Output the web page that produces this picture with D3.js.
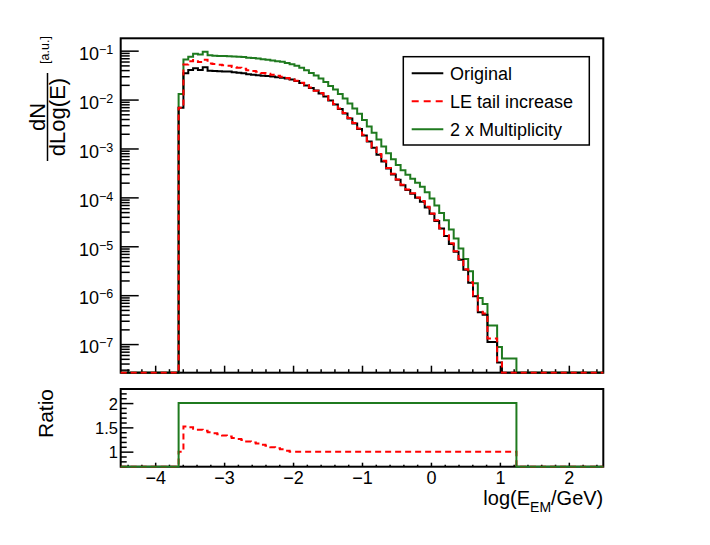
<!DOCTYPE html>
<html>
<head>
<meta charset="utf-8">
<style>
  body { margin: 0; background: #fff; }
  svg { display: block; font-family: "Liberation Sans", Arial, Helvetica, sans-serif; }
  .axis path.domain { display: none; }
  .axis line { stroke: #000; stroke-width: 1.5; }
</style>
<script src="https://cdn.jsdelivr.net/npm/d3@7"></script>
</head>
<body>
<svg width="710" height="545"></svg>
<script>
// binning of the histograms: 100 bins of 0.07 between -4.5 and 2.5
var binLow = -4.5, binWidth = 0.07, nBins = 100;
var firstBin = 12;   // first filled bin, the arrays below start here

var original = [
  0.0068, 0.0345, 0.0404, 0.0437, 0.0404, 0.0458, 0.0390, 0.0385, 0.0380, 0.0377,
  0.0373, 0.0362, 0.0354, 0.0345, 0.0330, 0.0322, 0.0316, 0.0308, 0.0302, 0.0295,
  0.0286, 0.0280, 0.0271, 0.0258, 0.0240, 0.0219, 0.0195, 0.0173, 0.0154, 0.0133,
  0.0115, 0.0096, 0.0079, 0.0064, 0.0052, 0.0041, 0.00325, 0.0025, 0.00185, 0.00139,
  0.00103, 0.00074, 0.00054, 0.00039, 0.000295, 0.000228, 0.000176, 0.000142, 0.000118, 0.000098,
  0.000081, 0.000062, 0.000046, 0.000033, 0.000023, 0.0000163, 0.0000112, 0.0000077, 0.0000053, 0.0000033,
  0.00000179, 0.00000095, 0.00000045, 0.00000040, 0.00000011, 0.00000011, 0.000000042
];
var leTail = [
  0.0068, 0.0524, 0.0606, 0.0642, 0.0586, 0.0655, 0.0546, 0.0531, 0.0517, 0.0501,
  0.0489, 0.0463, 0.0446, 0.0428, 0.0399, 0.0383, 0.0370, 0.0351, 0.0338, 0.0322,
  0.0306, 0.0294, 0.0276, 0.0260, 0.0243, 0.0222, 0.0199, 0.0176, 0.0151, 0.0136,
  0.0118, 0.0098, 0.0081, 0.0066, 0.0053, 0.0042, 0.00332, 0.00256, 0.00190, 0.00142,
  0.00106, 0.00077, 0.00056, 0.00040, 0.000305, 0.000232, 0.000182, 0.000145, 0.000121, 0.000100,
  0.000084, 0.000064, 0.000047, 0.000034, 0.0000235, 0.0000168, 0.0000115, 0.0000079, 0.0000055, 0.0000034,
  0.00000184, 0.00000098, 0.00000046, 0.00000042, 0.00000013, 0.00000013, 0.000000042
];
var multi2 = [
  0.0130, 0.066, 0.075, 0.086, 0.083, 0.095, 0.081, 0.079, 0.078, 0.078,
  0.077, 0.076, 0.075, 0.074, 0.072, 0.071, 0.069, 0.067, 0.065, 0.063,
  0.061, 0.059, 0.056, 0.053, 0.049, 0.045, 0.040, 0.035, 0.031, 0.027,
  0.023, 0.019, 0.016, 0.013, 0.0105, 0.0083, 0.0066, 0.0051, 0.0038, 0.0028,
  0.0021, 0.00152, 0.00110, 0.00080, 0.00060, 0.00046, 0.00036, 0.00029, 0.00024, 0.00020,
  0.000165, 0.000128, 0.000095, 0.000068, 0.000048, 0.000034, 0.000022, 0.0000145, 0.0000090, 0.0000055,
  0.0000031, 0.00000175, 0.00000088, 0.00000066, 0.00000024, 0.00000024, 0.000000087, 0.000000051, 0.000000051, 0.000000051
];
var ratioLE = [
  1.00, 1.52, 1.50, 1.47, 1.45, 1.43, 1.40, 1.38, 1.36, 1.33,
  1.31, 1.28, 1.26, 1.24, 1.21, 1.19, 1.17, 1.14, 1.12, 1.09,
  1.07, 1.05, 1.02, 1.00, 1.00, 1.00, 1.00, 1.00, 1.00, 1.00,
  1.00, 1.00, 1.00, 1.00, 1.00, 1.00, 1.00, 1.00, 1.00, 1.00,
  1.00, 1.00, 1.00, 1.00, 1.00, 1.00, 1.00, 1.00, 1.00, 1.00,
  1.00, 1.00, 1.00, 1.00, 1.00, 1.00, 1.00, 1.00, 1.00, 1.00,
  1.00, 1.00, 1.00, 1.00, 1.00, 1.00, 1.00, 1.00, 1.00, 1.00
];
var ratioMulti = [
  2, 2, 2, 2, 2, 2, 2, 2, 2, 2,
  2, 2, 2, 2, 2, 2, 2, 2, 2, 2,
  2, 2, 2, 2, 2, 2, 2, 2, 2, 2,
  2, 2, 2, 2, 2, 2, 2, 2, 2, 2,
  2, 2, 2, 2, 2, 2, 2, 2, 2, 2,
  2, 2, 2, 2, 2, 2, 2, 2, 2, 2,
  2, 2, 2, 2, 2, 2, 2, 2, 2, 2
];

var xTicks = [-4, -3, -2, -1, 0, 1, 2];
var yDecades = [-7, -6, -5, -4, -3, -2, -1];
var ratioTicks = [1, 1.5, 2];
var legendNames = ["Original", "LE tail increase", "2 x Multiplicity"];

var green = "#1f7a1f";

// pad array
function full(arr) {
  var out = [];
  for (var i = 0; i < nBins; i++) {
    var j = i - firstBin;
    out.push(j >= 0 && j < arr.length ? arr[j] : 0);
  }
  return out;
}

var svg = d3.select("svg");

// frames (pixels)
var L = 120.7, R = 603.3;
var topT = 38.3, topB = 372.7;
var ratT = 389, ratB = 466.7;

var x = d3.scaleLinear().domain([binLow, binLow + nBins * binWidth]).range([L, R]);
var y = d3.scaleLog().domain([2.6e-8, 0.179]).range([topB, topT]);
var yr = d3.scaleLinear().domain([0.69, 2.29]).range([ratB, ratT]);

// clip areas
var defs = svg.append("defs");
defs.append("clipPath").attr("id", "clipTop").append("rect")
    .attr("x", L - 1).attr("y", topT - 1).attr("width", R - L + 2).attr("height", topB - topT + 2);
defs.append("clipPath").attr("id", "clipRat").append("rect")
    .attr("x", L - 1).attr("y", ratT - 1).attr("width", R - L + 2).attr("height", ratB - ratT + 2);

function stepPath(vals, ys, floorY) {
  var pts = [];
  for (var i = 0; i < nBins; i++) pts.push([binLow + i * binWidth, vals[i]]);
  pts.push([binLow + nBins * binWidth, vals[nBins - 1]]);
  return d3.line()
    .x(function(d) { return x(d[0]); })
    .y(function(d) { return d[1] > 0 && ys(d[1]) < floorY ? ys(d[1]) : floorY; })
    .curve(d3.curveStepAfter)(pts);
}

// ---------- top panel ----------
svg.append("rect").attr("x", L).attr("y", topT).attr("width", R - L).attr("height", topB - topT)
   .attr("fill", "none").attr("stroke", "#000").attr("stroke-width", 2);

// x ticks (no labels)
var minorX = d3.range(-4.4, 2.5, 0.2).filter(function(v) { return Math.abs(v - Math.round(v)) > 0.01; });
svg.append("g").attr("class", "axis").attr("transform", "translate(0," + topB + ")")
   .call(d3.axisBottom(x).tickValues(minorX).tickSize(-3.5).tickFormat(""));
svg.append("g").attr("class", "axis").attr("transform", "translate(0," + topB + ")")
   .call(d3.axisBottom(x).tickValues(xTicks).tickSize(-7).tickFormat(""));

// log y ticks
var minorY = [];
for (var e = -8; e <= -1; e++) {
  for (var m = 2; m <= 9; m++) {
    var v = m * Math.pow(10, e);
    if (v > y.domain()[0] && v < y.domain()[1]) minorY.push(v);
  }
}
svg.append("g").attr("class", "axis").attr("transform", "translate(" + L + ",0)")
   .call(d3.axisLeft(y).tickValues(minorY).tickSize(-9).tickFormat(""));
var majY = svg.append("g").attr("class", "axis").attr("transform", "translate(" + L + ",0)")
   .call(d3.axisLeft(y).tickValues(yDecades.map(function(d) { return Math.pow(10, d); }))
   .tickSize(-18).tickFormat(""));
majY.selectAll(".tick").each(function(d) {
  var t = d3.select(this).append("text")
     .attr("x", -7.5).attr("y", 8.8).attr("fill", "#000")
     .attr("text-anchor", "end").style("font-size", "18px");
  t.append("tspan").text("10");
  t.append("tspan").attr("dy", -6).style("font-size", "12.5px")
   .text("\u2212" + Math.round(-Math.log10(d)));
});

// histograms
var gTop = svg.append("g").attr("clip-path", "url(#clipTop)");
gTop.append("path").attr("d", stepPath(full(multi2), y, topB))
    .attr("fill", "none").attr("stroke", green).attr("stroke-width", 2);
gTop.append("path").attr("d", stepPath(full(original), y, topB))
    .attr("fill", "none").attr("stroke", "#000").attr("stroke-width", 2);
gTop.append("path").attr("d", stepPath(full(leTail), y, topB))
    .attr("fill", "none").attr("stroke", "#ff0000").attr("stroke-width", 2)
    .attr("stroke-dasharray", "6,4");

// y title
var yt = svg.append("g").attr("transform", "rotate(-90)").attr("fill", "#000");
yt.append("text").attr("x", -117).attr("y", 45).attr("text-anchor", "middle")
  .style("font-size", "22px").text("dN");
yt.append("line").attr("x1", -161).attr("x2", -73).attr("y1", 47.5).attr("y2", 47.5)
  .attr("stroke", "#000").attr("stroke-width", 1.5);
yt.append("text").attr("x", -117).attr("y", 65).attr("text-anchor", "middle")
  .style("font-size", "22px").text("dLog(E)");
yt.append("text").attr("x", -50).attr("y", 49).attr("text-anchor", "middle")
  .style("font-size", "12.5px").text("[a.u.]");

// legend
var lg = svg.append("g");
lg.append("rect").attr("x", 403.3).attr("y", 56.7).attr("width", 186).attr("height", 88.3)
  .attr("fill", "#fff").attr("stroke", "#000").attr("stroke-width", 1.5);
var legendStyles = [
  { c: "#000", dash: null },
  { c: "#ff0000", dash: "7,5" },
  { c: green, dash: null }
];
legendNames.forEach(function(name, i) {
  var cy = 73.3 + i * 28;
  lg.append("line").attr("x1", 411.7).attr("x2", 443.3).attr("y1", cy).attr("y2", cy)
    .attr("stroke", legendStyles[i].c).attr("stroke-width", 2)
    .attr("stroke-dasharray", legendStyles[i].dash);
  lg.append("text").attr("x", 450).attr("y", cy + 6.4).style("font-size", "18px").text(name);
});

// ---------- ratio panel ----------
svg.append("rect").attr("x", L).attr("y", ratT).attr("width", R - L).attr("height", ratB - ratT)
   .attr("fill", "none").attr("stroke", "#000").attr("stroke-width", 2);

svg.append("g").attr("class", "axis").attr("transform", "translate(0," + ratB + ")")
   .call(d3.axisBottom(x).tickValues(minorX).tickSize(-2).tickFormat(""));
var bx = svg.append("g").attr("class", "axis").attr("transform", "translate(0," + ratB + ")")
   .call(d3.axisBottom(x).tickValues(xTicks).tickSize(-4).tickPadding(4.5)
   .tickFormat(d3.format("d")));
bx.selectAll("text").attr("fill", "#000").style("font-size", "18px");

var minorR = d3.range(0.7, 2.25, 0.1).filter(function(v) { return Math.abs(v * 2 - Math.round(v * 2)) > 0.01; });
svg.append("g").attr("class", "axis").attr("transform", "translate(" + L + ",0)")
   .call(d3.axisLeft(yr).tickValues(minorR).tickSize(-6).tickFormat(""));
var ry = svg.append("g").attr("class", "axis").attr("transform", "translate(" + L + ",0)")
   .call(d3.axisLeft(yr).tickValues(ratioTicks).tickSize(-12.7).tickPadding(2.7)
   .tickFormat(d3.format("~g")));
ry.selectAll("text").attr("fill", "#000").style("font-size", "16.5px").attr("dy", "0.36em");
svg.selectAll(".axis").attr("font-family", null);

var gRat = svg.append("g").attr("clip-path", "url(#clipRat)");
gRat.append("path").attr("d", stepPath(full(ratioLE), yr, ratB))
    .attr("fill", "none").attr("stroke", "#ff0000").attr("stroke-width", 2)
    .attr("stroke-dasharray", "6,4");
gRat.append("path").attr("d", stepPath(full(ratioMulti), yr, ratB))
    .attr("fill", "none").attr("stroke", green).attr("stroke-width", 2);

svg.append("text").attr("transform", "rotate(-90)").attr("x", -389).attr("y", 53)
   .attr("text-anchor", "end").style("font-size", "21px").text("Ratio");

// x title
var xt = svg.append("text").attr("x", R).attr("y", 504.5).attr("text-anchor", "end")
   .style("font-size", "20px");
xt.append("tspan").text("log(E");
xt.append("tspan").attr("dy", 7).style("font-size", "14px").text("EM");
xt.append("tspan").attr("dy", -7).text("/GeV)");
</script>
</body>
</html>
